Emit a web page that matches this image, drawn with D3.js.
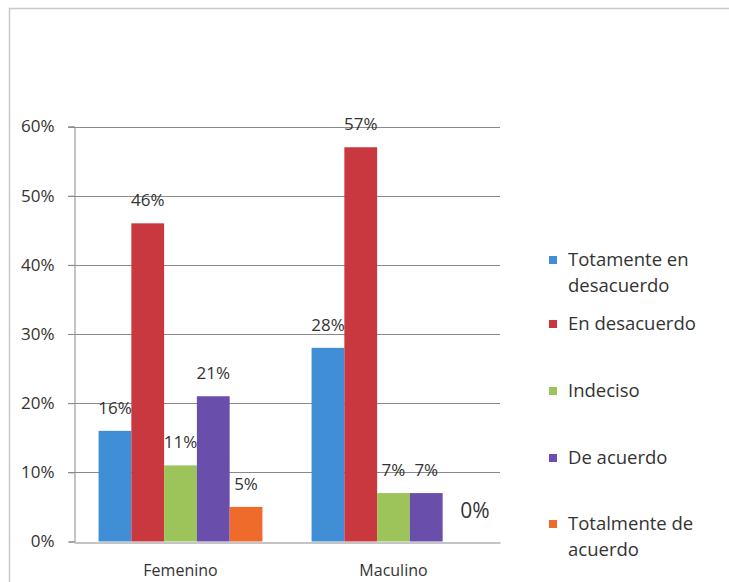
<!DOCTYPE html>
<html>
<head>
<meta charset="utf-8">
<script src="https://cdn.jsdelivr.net/npm/d3@7"></script>
<style>
  html, body { margin: 0; padding: 0; background: #fff; }
  svg { display: block; font-family: "Open Sans", "DejaVu Sans", sans-serif; }
</style>
</head>
<body>
<svg id="chart" width="729" height="582"></svg>
<script>
// Survey responses by gender (share of respondents)
const categories = ["Femenino", "Maculino"];
const seriesNames = ["Totamente en desacuerdo", "En desacuerdo", "Indeciso", "De acuerdo", "Totalmente de acuerdo"];
const legendLines = [["Totamente en", "desacuerdo"], ["En desacuerdo"], ["Indeciso"], ["De acuerdo"], ["Totalmente de", "acuerdo"]];
const femenino = [0.16, 0.46, 0.11, 0.21, 0.05];
const maculino = [0.28, 0.57, 0.07, 0.07, 0.00];
const yTicks = [0, 0.1, 0.2, 0.3, 0.4, 0.5, 0.6];
const colors = ["#3f8ed6", "#c9373f", "#9dc35b", "#6a4eac", "#ee6b2b"];

const values = [femenino, maculino];

const svg = d3.select("#chart");
const W = 729, H = 582;
const textColor = "#333";

// outer chart frame
svg.append("rect")
  .attr("x", 9.5).attr("y", 8.5)
  .attr("width", W + 10).attr("height", H + 10)
  .attr("fill", "#fff").attr("stroke", "#c8c8c8").attr("stroke-width", 1.5);

const plot = { left: 74, right: 500, top: 126.5, bottom: 541.5 };

const x0 = d3.scaleBand().domain(categories).range([plot.left, plot.right]).paddingInner(0).paddingOuter(0);
// five bars per group, with a gap of 1.5 bar widths between groups
const x1 = d3.scaleBand().domain(d3.range(seriesNames.length))
  .range([0, x0.bandwidth()]).paddingInner(0).paddingOuter(0.75);
const y = d3.scaleLinear().domain([0, 0.6]).range([plot.bottom, plot.top]);

// gridlines
svg.append("g").selectAll("line").data(yTicks.filter(d => d > 0)).join("line")
  .attr("x1", plot.left - 6).attr("x2", plot.right)
  .attr("y1", d => Math.round(y(d)) + 0.5).attr("y2", d => Math.round(y(d)) + 0.5)
  .attr("stroke", "#8a8a8a").attr("stroke-width", 1);

// y axis
const yAxis = d3.axisLeft(y).tickValues(yTicks).tickFormat(d3.format(".0%")).tickSize(6).tickPadding(14);
const gy = svg.append("g").attr("transform", `translate(${plot.left + 0.5},0)`).call(yAxis);
gy.select(".domain").attr("stroke", "#8a8a8a");
gy.selectAll(".tick line").attr("stroke", "#8a8a8a");
gy.selectAll(".tick text").attr("font-size", 17).attr("fill", textColor)
  .attr("font-family", "Open Sans, sans-serif");

// x axis
const xAxis = d3.axisBottom(x0).tickSize(0).tickPadding(22);
const gx = svg.append("g").attr("transform", `translate(0,${Math.round(plot.bottom) + 0.5})`).call(xAxis);
gx.select(".domain").attr("stroke", "#8a8a8a");
gx.selectAll(".tick text").attr("font-size", 16).attr("fill", textColor)
  .attr("font-family", "Open Sans, sans-serif");

// bars
const groups = svg.append("g").selectAll("g").data(categories).join("g")
  .attr("transform", c => `translate(${x0(c)},0)`);

groups.selectAll("rect")
  .data((c, i) => values[i].map((v, k) => ({ k, v })))
  .join("rect")
  .attr("x", d => x1(d.k))
  .attr("width", x1.bandwidth())
  .attr("y", d => y(d.v))
  .attr("height", d => y(0) - y(d.v))
  .attr("fill", d => colors[d.k]);

// value labels
const fmt = d3.format(".0%");
groups.selectAll("text.val")
  .data((c, i) => values[i].map((v, k) => ({ k, v })))
  .join("text")
  .attr("class", "val")
  .attr("x", d => x1(d.k) + x1.bandwidth() / 2 + (d.v === 0 ? 16 : 0))
  .attr("y", d => d.v === 0 ? y(d.v) - 24 : y(d.v) - 17)
  .attr("text-anchor", "middle")
  .attr("font-size", d => d.v === 0 ? 21 : 17)
  .attr("fill", textColor)
  .text(d => fmt(d.v));

// legend
const legend = svg.append("g").attr("transform", "translate(549,0)");
const legendY = [260, 324, 391, 458, 524];
const item = legend.selectAll("g").data(seriesNames).join("g")
  .attr("transform", (d, i) => `translate(0,${legendY[i]})`);
item.append("rect")
  .attr("x", 0).attr("y", -4).attr("width", 8).attr("height", 8)
  .attr("fill", (d, i) => colors[i]);
item.append("text")
  .attr("x", 19).attr("y", 0)
  .attr("font-size", 18.5).attr("fill", textColor)
  .selectAll("tspan").data((d, i) => legendLines[i]).join("tspan")
  .attr("x", 19).attr("dy", (d, j) => j === 0 ? "0.35em" : 26)
  .text(d => d);
</script>
</body>
</html>
